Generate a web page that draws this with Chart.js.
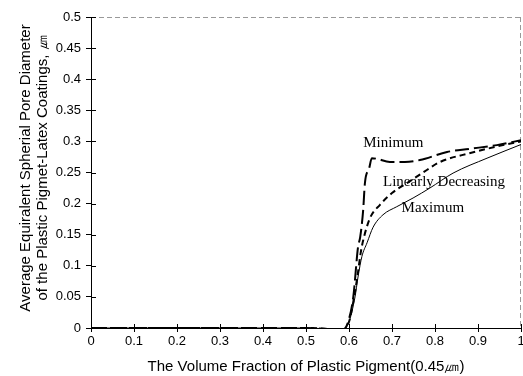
<!DOCTYPE html>
<html>
<head>
<meta charset="utf-8">
<script src="https://cdn.jsdelivr.net/npm/chart.js@4.4.1/dist/chart.umd.min.js"></script>
<style>
  html, body { margin: 0; padding: 0; background: #fff; }
  #wrap { width: 523px; height: 376px; }
</style>
</head>
<body>
<div id="wrap"><canvas id="chart" width="523" height="376"></canvas></div>
<script>
// === data ===
const maxX = [0, 0.5, 0.56, 0.585, 0.6, 0.614, 0.621, 0.63, 0.642, 0.656, 0.679, 0.711, 0.749, 0.788, 0.842, 0.921, 1.0];
const maxY = [0, 0, -0.002, -0.003, 0.01, 0.05, 0.082, 0.115, 0.137, 0.162, 0.182, 0.195, 0.209, 0.225, 0.249, 0.273, 0.295];

const linX = [0, 0.5, 0.56, 0.585, 0.6, 0.612, 0.62, 0.627, 0.633, 0.649, 0.672, 0.7, 0.735, 0.781, 0.812, 0.88, 0.958, 1.0];
const linY = [0, 0, -0.002, -0.003, 0.01, 0.05, 0.085, 0.12, 0.141, 0.177, 0.198, 0.217, 0.233, 0.254, 0.267, 0.281, 0.294, 0.3];

const minX = [0, 0.5, 0.56, 0.585, 0.598, 0.61, 0.621, 0.626, 0.633, 0.637, 0.647, 0.653, 0.665, 0.695, 0.73, 0.765, 0.828, 0.88, 0.944, 1.0];
const minY = [0, 0, -0.002, -0.003, 0.01, 0.05, 0.13, 0.146, 0.19, 0.233, 0.257, 0.273, 0.272, 0.267, 0.267, 0.27, 0.283, 0.288, 0.294, 0.302];

const labelText = ["Minimum", "Linearly Decreasing", "Maximum"];
const labelX = [0.703, 0.821, 0.795];
const labelY = [0.297, 0.235, 0.193];

const xTitle = "The Volume Fraction of Plastic Pigment(0.45\u339B)";
const yTitle = ["Average Equiralent Spherial Pore Diameter", "of the Plastic Pigmet-Latex Coatings, \u339B"];

const pts = (xs, ys) => xs.map((x, i) => ({ x: x, y: ys[i] }));
const fmt = v => String(+(+v).toFixed(2));

// ticks drawn through the axis, faint top/right frame, y title and curve labels
const extras = {
  id: "extras",
  afterDraw(chart) {
    const { ctx, chartArea: a, scales: { x, y } } = chart;
    ctx.save();
    ctx.strokeStyle = "#000";
    ctx.lineWidth = 1;
    ctx.beginPath();
    x.ticks.forEach(t => {
      const px = Math.round(x.getPixelForValue(t.value)) + 0.5;
      ctx.moveTo(px, a.bottom); ctx.lineTo(px, a.bottom - 4);
    });
    y.ticks.forEach(t => {
      const py = Math.round(y.getPixelForValue(t.value)) + 0.5;
      ctx.moveTo(a.left, py); ctx.lineTo(a.left + 5, py);
    });
    ctx.stroke();

    ctx.strokeStyle = "rgba(0,0,0,0.4)";
    ctx.setLineDash([5, 3]);
    ctx.beginPath();
    ctx.moveTo(a.left, a.top + 0.5); ctx.lineTo(a.right, a.top + 0.5);
    ctx.moveTo(a.right - 0.5, a.top); ctx.lineTo(a.right - 0.5, a.bottom);
    ctx.stroke();
    ctx.setLineDash([]);

    ctx.fillStyle = "#000";
    ctx.textAlign = "center";
    ctx.textBaseline = "middle";

    ctx.font = "15px 'Liberation Sans', Arial, sans-serif";
    ctx.save();
    ctx.translate(26, 168);
    ctx.rotate(-Math.PI / 2);
    ctx.fillText(yTitle[0], 0, 0);
    ctx.fillText(yTitle[1], 0, 17);
    ctx.restore();

    ctx.font = "15px 'Liberation Serif', 'Times New Roman', serif";
    labelText.forEach((s, i) => {
      ctx.fillText(s, x.getPixelForValue(labelX[i]), y.getPixelForValue(labelY[i]));
    });
    ctx.restore();
  }
};

const font = { family: "'Liberation Sans', Arial, sans-serif", size: 13 };

new Chart(document.getElementById("chart"), {
  type: "scatter",
  data: {
    datasets: [
      { label: "Maximum", data: pts(maxX, maxY), showLine: true, borderColor: "#000", borderWidth: 1, pointRadius: 0, cubicInterpolationMode: "monotone" },
      { label: "Linearly Decreasing", data: pts(linX, linY), showLine: true, borderColor: "#000", borderWidth: 2, borderDash: [6, 4], pointRadius: 0, cubicInterpolationMode: "monotone" },
      { label: "Minimum", data: pts(minX, minY), showLine: true, borderColor: "#000", borderWidth: 2, borderDash: [14, 5], pointRadius: 0, cubicInterpolationMode: "monotone" }
    ]
  },
  options: {
    responsive: false,
    animation: false,
    layout: { padding: { top: 17, right: 2, left: 0, bottom: 0 } },
    plugins: { legend: { display: false }, tooltip: { enabled: false } },
    scales: {
      x: {
        type: "linear", min: 0, max: 1,
        ticks: { stepSize: 0.1, color: "#000", font: font, padding: 2, maxRotation: 0, callback: fmt },
        grid: { drawOnChartArea: false, tickLength: 4, color: "#000" },
        border: { color: "#000" },
        title: { display: true, text: xTitle, color: "#000", font: { family: font.family, size: 15 }, padding: { top: 2, bottom: 0 } },
        afterFit(s) { s.height = 48; s.paddingLeft = 0; s.paddingRight = 0; }
      },
      y: {
        type: "linear", min: 0, max: 0.5,
        ticks: { stepSize: 0.05, color: "#000", font: font, padding: 5, callback: fmt },
        grid: { drawOnChartArea: false, tickLength: 5, color: "#000" },
        border: { color: "#000" },
        title: { display: false },
        afterFit(s) { s.width = 91; s.paddingTop = 0; s.paddingBottom = 0; }
      }
    }
  },
  plugins: [extras]
});
</script>
</body>
</html>
